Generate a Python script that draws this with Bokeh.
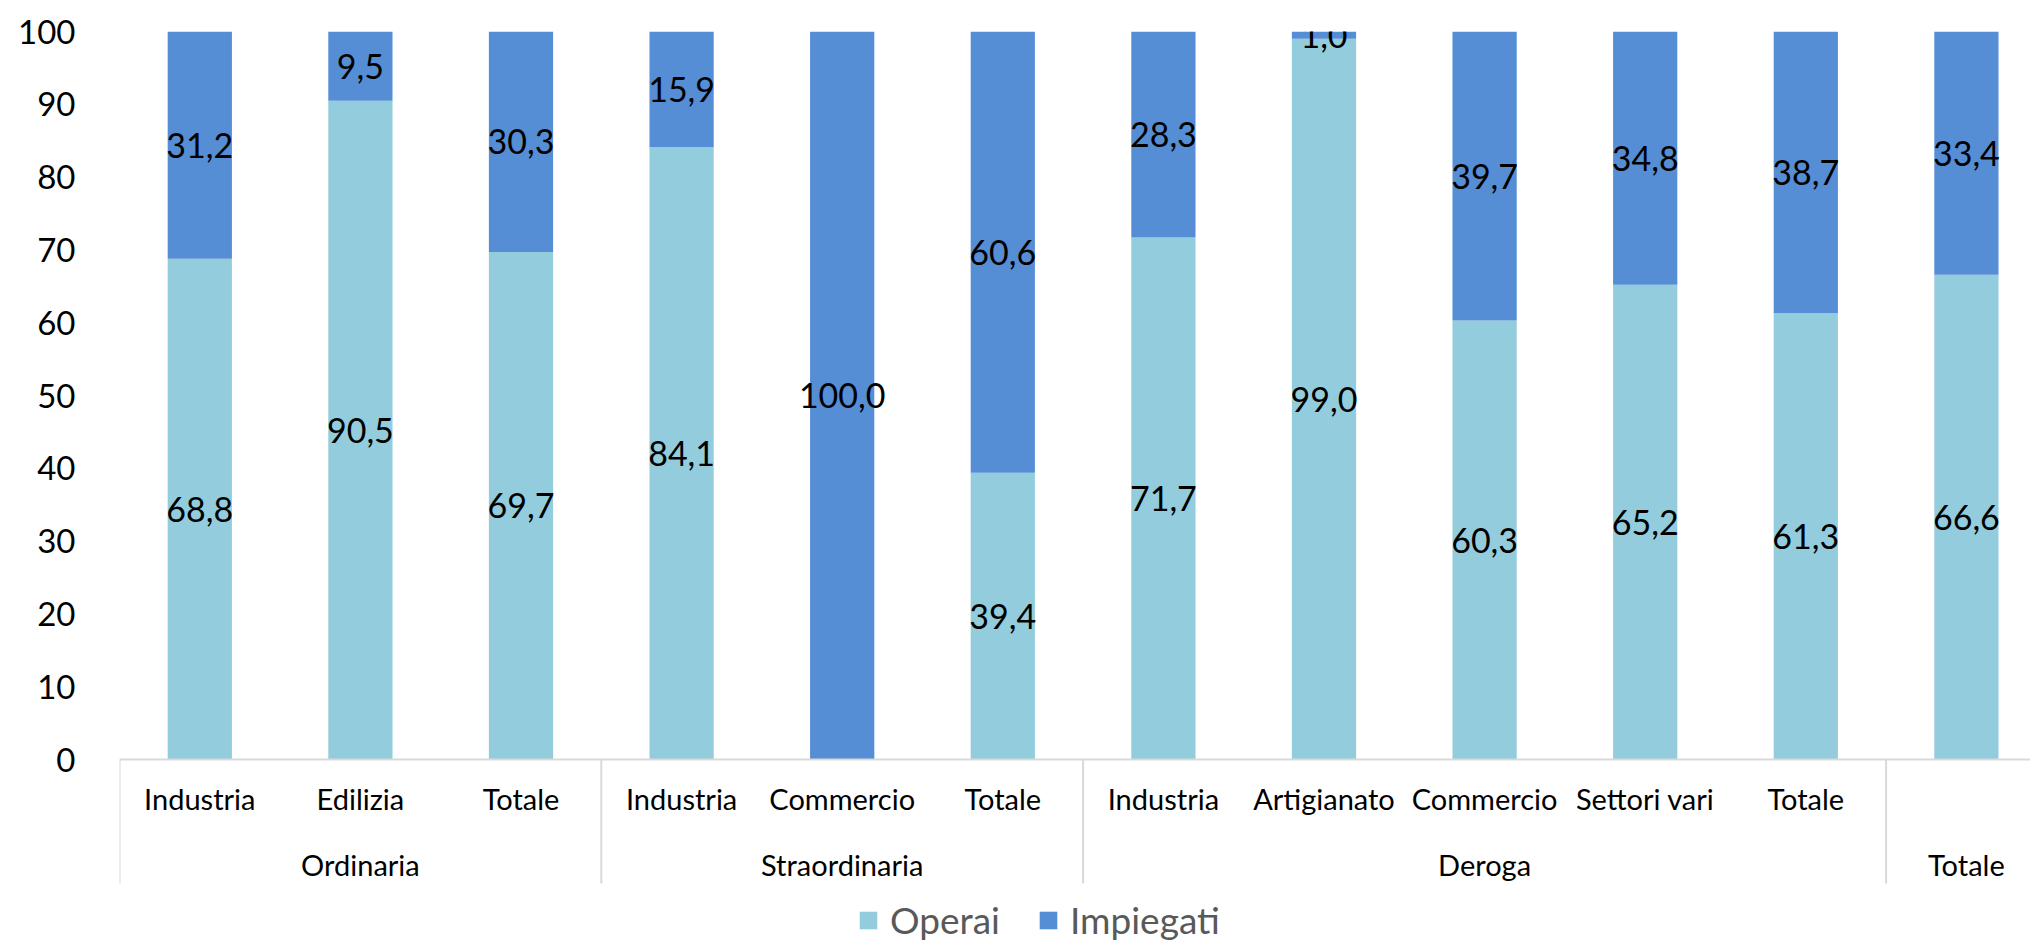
from bokeh.plotting import figure
from bokeh.models import (ColumnDataSource, Range1d, FixedTicker, Span, Legend, LegendItem)
from bokeh.core.properties import value
from bokeh.embed import file_html
from bokeh.resources import INLINE

# ---- data ----
groups = ["Ordinaria", "Ordinaria", "Ordinaria",
          "Straordinaria", "Straordinaria", "Straordinaria",
          "Deroga", "Deroga", "Deroga", "Deroga", "Deroga",
          "Totale"]
subcats = ["Industria", "Edilizia", "Totale",
           "Industria", "Commercio", "Totale",
           "Industria", "Artigianato", "Commercio", "Settori vari", "Totale",
           ""]
operai = [68.8, 90.5, 69.7, 84.1, 0.0, 39.4, 71.7, 99.0, 60.3, 65.2, 61.3, 66.6]
impiegati = [31.2, 9.5, 30.3, 15.9, 100.0, 60.6, 28.3, 1.0, 39.7, 34.8, 38.7, 33.4]
series = ["Operai", "Impiegati"]
y_ticks = [0, 10, 20, 30, 40, 50, 60, 70, 80, 90, 100]

# ---- style ----
FONT = "Lato"
C_OPERAI = "#93CDDD"
C_IMPIEGATI = "#558ED5"
AXIS_GREY = "#D9D9D9"
PX_PER_UNIT = 7.28

n = len(subcats)
xs = list(range(n))

W, H = 2030, 945
top_border = 31
left_border = 119
frame_h = H - top_border
frame_w = W - left_border
cat_px = 160.6

p = figure(width=W, height=H, output_backend="svg", toolbar_location=None,
           x_axis_type=None,
           x_range=Range1d(-0.5, -0.5 + frame_w / cat_px),
           y_range=Range1d(100 - frame_h / PX_PER_UNIT, 100),
           min_border_left=left_border, min_border_right=0,
           min_border_top=top_border, min_border_bottom=0)
p.outline_line_color = None
p.grid.visible = False
p.background_fill_color = "white"
p.border_fill_color = "white"

yax = p.yaxis[0]
yax.ticker = FixedTicker(ticks=y_ticks)
yax.axis_line_color = None
yax.major_tick_line_color = None
yax.minor_tick_line_color = None
yax.major_label_text_font = FONT
yax.major_label_text_font_size = "33px"
yax.major_label_text_color = "#000000"
yax.major_label_standoff = 38

src = ColumnDataSource(dict(x=xs, Operai=operai, Impiegati=impiegati))
rs = p.vbar_stack(series, x="x", width=0.4, source=src,
                  color=[C_OPERAI, C_IMPIEGATI], line_color=None)

# data labels at segment centres
lx, ly, lt = [], [], []
for i in range(n):
    base = 0.0
    for v in (operai[i], impiegati[i]):
        if v > 0:
            lx.append(xs[i])
            ly.append(base + v / 2)
            lt.append(f"{v:.1f}".replace(".", ","))
        base += v
p.text(x=lx, y=ly, text=lt, text_align="center", text_baseline="middle",
       text_font=value(FONT), text_font_size="34px", text_color="#000000")

# category axis line
p.add_layout(Span(location=0, dimension="width", line_color=AXIS_GREY, line_width=2))

# separators: left edge and between groups
sep_x = [-0.5]
for i in range(n - 1):
    if groups[i] != groups[i + 1]:
        sep_x.append(xs[i] + 0.5)
sep_len = 124 / PX_PER_UNIT
p.segment(x0=sep_x, y0=[0] * len(sep_x), x1=sep_x, y1=[-sep_len] * len(sep_x),
          line_color=AXIS_GREY, line_width=2)

# sub-category labels
p.text(x=xs, y=[0] * n, text=subcats, y_offset=39, text_align="center",
       text_baseline="middle", text_font=value(FONT), text_font_size="29px",
       text_color="#000000")

# group labels
g_names, g_x = [], []
for g in dict.fromkeys(groups):
    idx = [i for i in range(n) if groups[i] == g]
    g_names.append(g)
    g_x.append(sum(xs[i] for i in idx) / len(idx))
p.text(x=g_x, y=[0] * len(g_x), text=g_names, y_offset=105, text_align="center",
       text_baseline="middle", text_font=value(FONT), text_font_size="29px",
       text_color="#000000")

legend = Legend(items=[LegendItem(label=series[0], renderers=[rs[0]]),
                       LegendItem(label=series[1], renderers=[rs[1]])],
                location=(738, 3), orientation="horizontal",
                label_text_font=FONT, label_text_font_size="37px",
                label_text_color="#595959", glyph_width=22, glyph_height=22,
                label_standoff=11, spacing=37, padding=0, margin=0,
                border_line_color=None, background_fill_alpha=0)
p.add_layout(legend)

open("out.html", "w").write(file_html(p, INLINE))
